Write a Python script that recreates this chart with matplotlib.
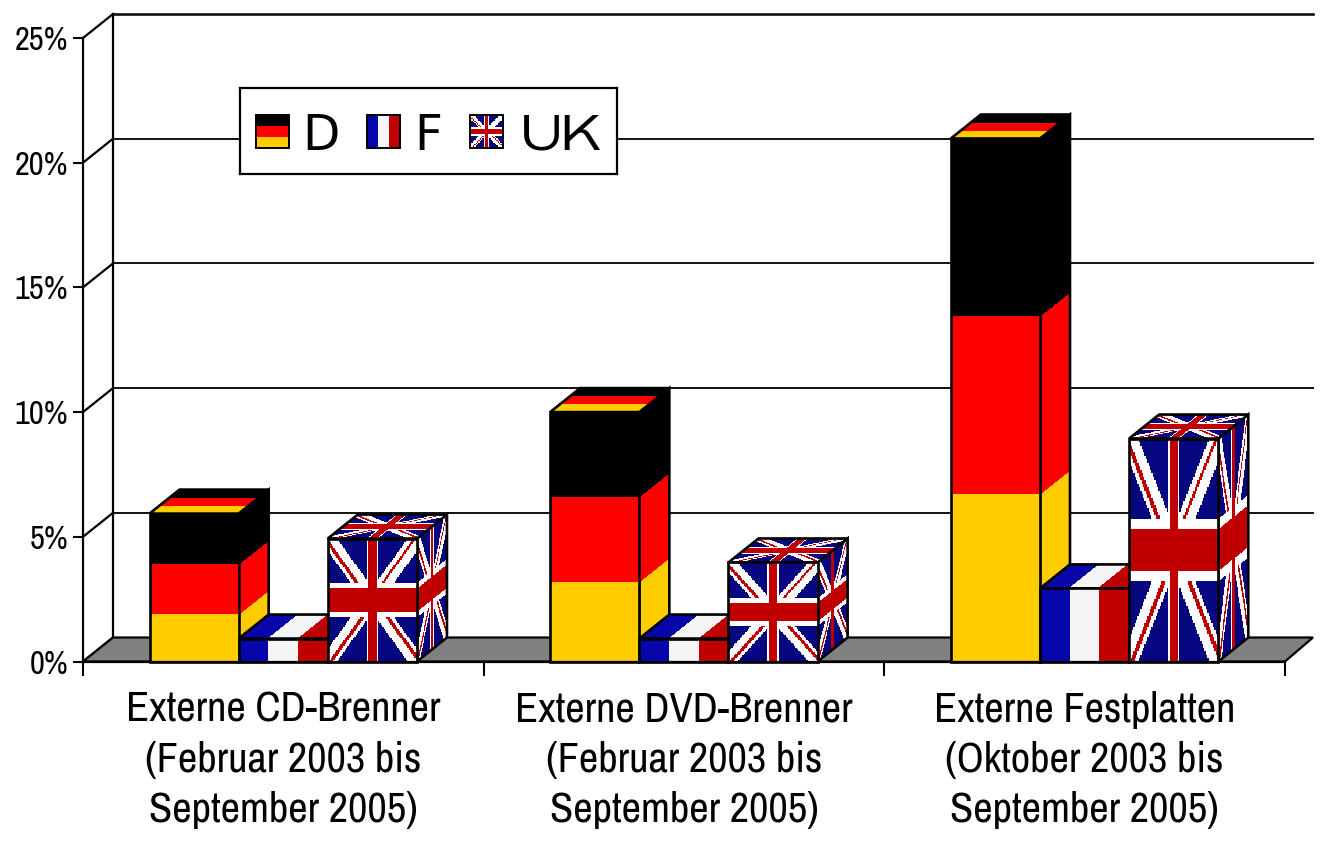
#!/usr/bin/env python

import numpy as np
import matplotlib
matplotlib.use('Agg')
import matplotlib.pyplot as plt
from matplotlib.patches import Polygon, Rectangle

# Chart values.
categories = ['Externe CD-Brenner\n(Februar 2003 bis\nSeptember 2005)',
              'Externe DVD-Brenner\n(Februar 2003 bis\nSeptember 2005)',
              'Externe Festplatten\n(Oktober 2003 bis\nSeptember 2005)']
de_values = [5.93, 10.0, 20.97]
fr_values = [0.92, 0.92, 2.93]
uk_values = [4.93, 3.97, 8.94]
y_ticks = [0, 5, 10, 15, 20, 25]
y_tick_labels = ['0%', '5%', '10%', '15%', '20%', '25%']

W, H = 1325, 842
narrow = ['Archivo Narrow', 'Roboto Condensed', 'Liberation Sans']
wide = ['Zalando Sans Expanded', 'DejaVu Sans']
LW = 1.9


def hex_rgb(c):
    return np.array(matplotlib.colors.to_rgb(c))


# Flag textures, row 0 is the bottom of the flag.
def flag_de():
    img = np.zeros((100, 1, 3))
    img[:32, 0] = hex_rgb('#ffcc00')
    img[32:66, 0] = hex_rgb('#ff0000')
    return img


def flag_fr():
    img = np.zeros((1, 3, 3))
    img[0, 0] = hex_rgb('#0606aa')
    img[0, 1] = hex_rgb('#f5f5f5')
    img[0, 2] = hex_rgb('#c00000')
    return img


def flag_uk(n=64):
    c = (np.arange(n) + 0.5) / n
    u, v = np.meshgrid(c, c)
    img = np.zeros((n, n, 3))
    img[:] = hex_rgb('#060680')
    d1 = v - u
    d2 = v - (1 - u)
    white = hex_rgb('#ffffff')
    red = hex_rgb('#c00000')
    img[(np.abs(d1) < 0.10) | (np.abs(d2) < 0.10)] = white
    left, low = u < 0.5, v < 0.5
    img[(left & ~low) & (d2 > -0.05) & (d2 < -0.005)] = red
    img[(~left & ~low) & (d1 > 0.0) & (d1 < 0.04)] = red
    img[(left & low) & (d1 > -0.05) & (d1 < -0.01)] = red
    img[(~left & low) & (d2 > 0.01) & (d2 < 0.05)] = red
    img[(np.abs(u - 0.5) < 0.065) | (np.abs(v - 0.5) < 0.135)] = white
    img[(np.abs(u - 0.5) < 0.04) | (np.abs(v - 0.5) < 0.095)] = red
    return img


# Put a flag on a parallelogram: origin, edge for the flag width, edge for the height.
def draw_face(ax, img, origin, e_u, e_v, zorder):
    rows, cols = img.shape[:2]
    uu, vv = np.meshgrid(np.linspace(0, 1, cols + 1), np.linspace(0, 1, rows + 1))
    x = origin[0] + uu * e_u[0] + vv * e_v[0]
    y = origin[1] + uu * e_u[1] + vv * e_v[1]
    ax.pcolormesh(x, y, img, shading='flat', antialiased=False, linewidth=0,
                  clip_on=False, zorder=zorder)
    corners = [origin,
               (origin[0] + e_u[0], origin[1] + e_u[1]),
               (origin[0] + e_u[0] + e_v[0], origin[1] + e_u[1] + e_v[1]),
               (origin[0] + e_v[0], origin[1] + e_v[1])]
    ax.add_patch(Polygon(corners, closed=True, fill=False, edgecolor='black',
                         linewidth=LW, clip_on=False, zorder=zorder + 0.1,
                         joinstyle='miter'))


fig = plt.figure(figsize=(W / 100, H / 100), dpi=100)
fig.patch.set_facecolor('white')
ax = fig.add_axes([83 / W, (H - 661.5) / H, 1202 / W, 623.5 / H])
ax.set_xlim(0, 3)
ax.set_ylim(0, 25)
ax.patch.set_visible(False)

x_scale = 1202 / 3
y_scale = 623.5 / 25
DX = 30 / x_scale
DY = 24 / y_scale
end = 3 + 28 / x_scale

# Walls and floor.
for t in y_ticks:
    ax.plot([0, DX], [t, t + DY], color='black', lw=1.6, clip_on=False, zorder=1)
    if t > 0:
        ax.plot([DX, end], [t + DY, t + DY], color='#111111', lw=1.4 if t < 25 else LW,
                clip_on=False, zorder=1)
ax.plot([DX, DX], [DY, 25 + DY], color='black', lw=1.6, clip_on=False, zorder=1)
ax.add_patch(Polygon([(0, 0), (DX, DY), (end, DY), (3, 0)], closed=True,
                     facecolor='#808080', edgecolor='black', linewidth=1.6,
                     clip_on=False, zorder=1.5))

# Bars.
bar_w = 0.2225
start = 0.166
flags = [flag_de(), flag_fr(), flag_uk()]
z = 2
for i in range(len(categories)):
    for j, vals in enumerate([de_values, fr_values, uk_values]):
        x0 = i + start + j * bar_w
        h = vals[i]
        img = flags[j]
        draw_face(ax, img, (x0 + bar_w, 0), (DX, DY), (0, h), z)
        draw_face(ax, img, (x0, h), (bar_w, 0), (DX, DY), z + 0.2)
        draw_face(ax, img, (x0, 0), (bar_w, 0), (0, h), z + 0.4)
        z += 1

# Axes.
for side in ['top', 'right']:
    ax.spines[side].set_visible(False)
for side in ['left', 'bottom']:
    ax.spines[side].set_linewidth(1.6)
    ax.spines[side].set_zorder(z + 1)
ax.set_yticks(y_ticks)
ax.set_yticklabels(y_tick_labels, family=narrow, fontsize=23.5)
ax.tick_params(axis='y', length=7.5, width=1.5, pad=3)
ax.set_xticks([0, 1, 2, 3])
ax.set_xticklabels([])
ax.tick_params(axis='x', which='major', length=10, width=1.5)
ax.set_xticks([0.5, 1.5, 2.5], minor=True)
ax.set_xticklabels(categories, minor=True, family=narrow, fontsize=30.5, linespacing=1.4)
ax.tick_params(axis='x', which='minor', length=0, pad=21)

# Legend box, in pixel coordinates.
leg = fig.add_axes([240 / W, (H - 174) / H, 377 / W, 86 / H], zorder=5)
leg.set_xticks([])
leg.set_yticks([])
for s in leg.spines.values():
    s.set_linewidth(1.6)
for x_icon, img, name, x_text, fam in [(256, flags[0], 'D', 302, 'DejaVu Sans'),
                                       (367, flags[1], 'F', 414, 'DejaVu Sans'),
                                       (470, flag_uk(24), 'UK', 521, wide)]:
    leg.pcolormesh(np.linspace(x_icon, x_icon + 33, img.shape[1] + 1),
                   np.linspace(148, 115, img.shape[0] + 1), img,
                   shading='flat', antialiased=False)
    leg.add_patch(Rectangle((x_icon, 115), 33, 33, fill=False, edgecolor='black', linewidth=1.4))
    leg.text(x_text, 150, name, fontsize=35, va='baseline', ha='left', family=fam)
leg.set_xlim(240, 617)
leg.set_ylim(174, 88)

fig.savefig('out.png', dpi=100)
